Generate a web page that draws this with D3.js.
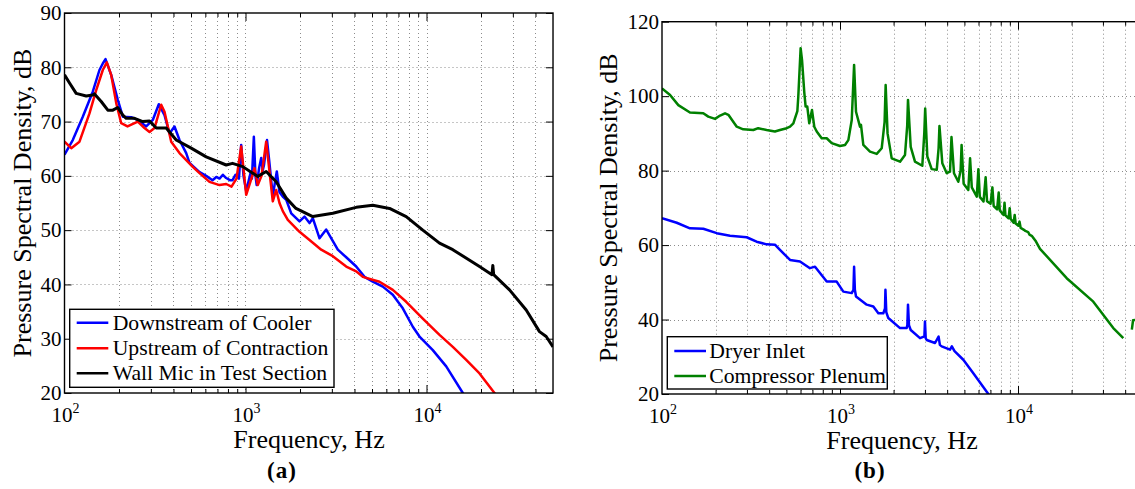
<!DOCTYPE html>
<html>
<head>
<meta charset="utf-8">
<script src="https://cdn.jsdelivr.net/npm/d3@7"></script>
<style>
  html, body { margin: 0; padding: 0; background: #fff; }
  svg { display: block; font-family: "Liberation Serif", "Times New Roman", serif; }
</style>
</head>
<body>
<svg id="chart" width="1135" height="489"></svg>
<script>
// ---------------- DATA ----------------
// Panel (a): [frequency Hz, PSD dB]
const downstreamCooler = [
  [100,63.9],[111.1,66.6],[126.2,70.9],[143.3,75.5],[156,79.5],[162.8,80.7],[168.5,81.5],[181.1,78.6],[197,74],
  [210,70.9],[233.6,70.8],[254.1,70.3],[282.8,69.1],[307.5,70.3],[331.9,73.2],[356.9,71.2],[380.2,67.8],[405.3,69.1],
  [431.9,66.6],[470.3,64.2],[490.6,62.4],[557.1,60.7],[606.6,60],[657.2,59.2],[690,59.8],[718.5,59.5],[750,60.2],
  [782.3,59.6],[820,59.2],[847.6,59.2],[880,60.2],[920,59.5],[946.6,65.7],[975,60],[1009,57.2],[1066,60.5],[1085,59.5],
  [1112,67.2],[1135,60],[1153,58.3],[1190,61.5],[1221,63.3],[1245,61],[1265,62],[1315,66.6],[1350,63],[1415,56.3],
  [1450,58.5],[1489,60.8],[1541,57],[1606,56.2],[1679,55.6],[1789,53.1],[1988,51.6],[2118,52.5],[2258,51.3],
  [2354,52.2],[2564,48.5],[2792,50.1],[3236,46.4],[3601,45],[4089,43.3],[4545,41.4],[5050,40.5],[5737,39.6],
  [6513,38.1],[7396,35.6],[8402,32.2],[9148,30.4],[10835,27.9],[12850,24.9],[15870,20],[16300,19.3]
];
const upstreamContraction = [
  [100,66.3],[109,65.1],[121,66.3],[137.4,71.5],[149.7,75.8],[162.8,79.5],[171.3,80.9],[181.1,78.6],[193.1,73.4],
  [205.7,69.7],[222.9,69.1],[254.1,70],[276.7,68.8],[294.9,68.1],[314.2,68.8],[342.2,73.1],[356.9,71.8],[388.6,66.3],
  [431.9,64.2],[509.6,61.7],[557.1,60.5],[632.6,58.9],[718.5,58.3],[782.3,58.5],[836.9,58.0],[891.7,59.5],
  [946.6,65.4],[1009,56.5],[1066,59],[1121,61.4],[1169,58.3],[1226,60],[1301,66.3],[1415,55.3],[1478,57.4],
  [1541,55],[1607,53.5],[1713,51.9],[1988,49.7],[2258,48.2],[2620,46.4],[3037,45.2],[3601,43.3],[4089,42.4],
  [4447,41.4],[5500,40.5],[6513,39],[7723,36.8],[9541,33.7],[11800,30.7],[13977,28.5],[16570,26.1],[19630,23.6],
  [23750,20],[24500,19.4]
];
const wallMic = [
  [100,78.6],[106.6,77.1],[116,75.2],[131.8,74.7],[143.3,74.9],[146.5,75.1],[159.5,73.7],[173.5,72.1],[184.9,72.1],
  [197,72.6],[210,71.2],[219.3,70.6],[243.6,70.6],[270.7,70],[294.9,70.1],[321.2,68.8],[364.7,68.8],[414.2,66.6],
  [501.2,65.1],[606.6,63.5],[782.3,62],[847.6,62.3],[966.2,61.7],[1060,60.8],[1169,59.9],[1301,60.8],[1478,58.9],
  [1679,55.9],[1900,54],[2354,52.5],[3037,53.1],[4089,54.2],[5050,54.6],[6248,54],[7723,52.5],[9541,50],
  [11800,47.6],[13977,46.4],[19630,43.3],[23000,41.8],[23250,43.5],[23500,41.8],[28750,39],[35550,35.3],
  [42100,31.3],[45850,30.4],[50000,28.5]
];
// Panel (b)
const dryerInlet = [
  [100,67.2],[121,66],[143.6,64.5],[170.6,64.4],[203,63.2],[241,62.5],[299,62.1],[340,60.9],[387,60.2],[431,60.1],
  [460,58.7],[524,56],[596,55.6],[678,53.8],[724,54.2],[842,50.2],[958,50.2],[1044,47.5],[1164,47.1],[1190,48],
  [1200,54.2],[1212,48],[1230,46.2],[1413,44],[1539,43.5],[1642,41.7],[1751,41.7],[1790,43],[1800,48],[1820,42],
  [1868,40.4],[2174,37.7],[2370,37.7],[2390,38.5],[2410,44],[2440,38.5],[2496,37.2],[2815,35],[2980,35.5],
  [3002,39.5],[3030,35],[3069,34.5],[3418,33.7],[3580,35.4],[3640,33.2],[3727,32.8],[4150,31.9],[4250,32.8],
  [4400,31.5],[4929,29.2],[5610,25.6],[6812,20],[7000,19.4]
];
const compressorPlenum = [
  [100,102.1],[111,100.3],[123.5,97.6],[143.6,95.6],[170.6,95.4],[182,94.5],[198.6,93.9],[212,94.8],[226,95.4],
  [236,95.0],[263,91.8],[286,91.1],[326,90.9],[347,91.4],[387,90.9],[431,90.5],[460,90.9],[502,91.4],[524,91.8],
  [547,92.7],[559,94.1],[576,96],[583,99.9],[601,112.9],[612,109.7],[630,101],[641,97.2],[655,97.2],[672,92.7],
  [696,96.3],[717,91.8],[740,90.5],[789,88.7],[842,88.7],[898,87.4],[1000,86.6],[1067,86.9],[1114,88.2],
  [1164,93.6],[1200,108.4],[1230,95.8],[1295,91.8],[1312,92.3],[1352,86.9],[1474,85.1],[1608,84.5],[1715,86],
  [1780,93],[1805,103],[1850,90],[1952,83.3],[2174,82.4],[2318,84.2],[2385,92],[2410,99],[2496,86.4],[2638,82.4],
  [2900,81.3],[2975,90],[3010,96.7],[3094,83.8],[3275,80.4],[3495,80.2],[3580,86],[3620,92],[3756,82],[3978,79.3],
  [4150,79.7],[4230,89],[4369,79.3],[4620,77],[4760,80],[4820,86.9],[4950,76.5],[5258,74.8],[5380,83.3],[5500,75.5],
  [5868,73],[5990,80.4],[6100,73],[6400,71.7],[6580,78.2],[6700,71.8],[7010,71.1],[7180,75.5],[7300,70.5],[7630,69.6],
  [7790,74.1],[7900,69.3],[8300,68.1],[8400,71.4],[8500,68],[8850,67.2],[8980,69.9],[9100,67],[9450,66],[9580,68.1],
  [9700,65.8],[10050,65.2],[10200,66.3],[10350,64.6],[10800,64.1],[11000,63.8],[11400,63.5],[11600,62.8],
  [12000,62.4],[12600,61.0],[13292,59],[18775,51.1],[26485,44.8],[34311,37.7],[39049,35],
  null,[43600,37.3],[44300,39.8],[47000,40]
];

const xMajorTicks = [100, 1000, 10000];
const xExponents = ["2", "3", "4"];
const leftYTicks = [20, 30, 40, 50, 60, 70, 80, 90];
const rightYTicks = [20, 40, 60, 80, 100, 120];
const leftLegend = ["Downstream of Cooler", "Upstream of Contraction", "Wall Mic in Test Section"];
const rightLegend = ["Dryer Inlet", "Compressor Plenum"];
const xTitle = "Frequency, Hz";
const yTitle = "Pressure Spectral Density, dB";

// ---------------- DRAW ----------------
const svg = d3.select("#chart");
const FONT = "'Liberation Serif', 'Times New Roman', serif";

function minorValues() {
  const v = [];
  for (const d of [100, 1000, 10000]) for (let k = 1; k <= 9; k++) {
    const f = k * d; if (f > 100 && f < 50000) v.push(f);
  }
  return v;
}

function panel(cfg) {
  const x = d3.scaleLog().domain([100, 50000]).range([cfg.x0, cfg.x0 + cfg.decade * Math.log10(500)]);
  const y = d3.scaleLinear().domain(cfg.yDomain).range([cfg.yBottom, cfg.yTop]);
  const [xa, xb] = x.range();
  const g = svg.append("g");
  const clipId = "clip" + cfg.id;
  svg.append("clipPath").attr("id", clipId).append("rect")
    .attr("x", xa).attr("y", cfg.yTop).attr("width", xb - xa).attr("height", cfg.yBottom - cfg.yTop);

  // grid
  const grid = g.append("g").attr("stroke", "#8c8c8c").attr("stroke-width", 1).attr("stroke-dasharray", "1,3");
  grid.selectAll("line.v").data(minorValues()).join("line")
    .attr("x1", d => Math.round(x(d)) + 0.5).attr("x2", d => Math.round(x(d)) + 0.5)
    .attr("y1", cfg.yTop).attr("y2", cfg.yBottom);
  grid.selectAll("line.h").data(cfg.yTicks.slice(1, -1)).join("line")
    .attr("y1", d => Math.round(y(d)) + 0.5).attr("y2", d => Math.round(y(d)) + 0.5)
    .attr("x1", xa).attr("x2", xb);

  // series
  const line = d3.line().defined(d => d !== null).x(d => x(d[0])).y(d => y(d[1]));
  const lines = g.append("g").attr("clip-path", `url(#${clipId})`);
  cfg.series.forEach(s => {
    lines.append("path").datum(s.data).attr("fill", "none").attr("stroke", s.color)
      .attr("stroke-width", s.width).attr("stroke-linejoin", "round").attr("d", line);
  });

  // axes (ticks inward)
  const axG = g.append("g");
  const styleAxis = sel => { sel.select(".domain").remove(); sel.selectAll("line").attr("stroke", "#000").attr("stroke-width", 1); };
  axG.append("g").attr("transform", `translate(0,${cfg.yBottom})`)
    .call(d3.axisBottom(x).tickValues(minorValues().filter(v => !xMajorTicks.includes(v))).tickSize(-4).tickFormat(""))
    .call(styleAxis);
  axG.append("g").attr("transform", `translate(0,${cfg.yBottom})`)
    .call(d3.axisBottom(x).tickValues(xMajorTicks.slice(1)).tickSize(-8).tickFormat(""))
    .call(styleAxis);
  axG.append("g").attr("transform", `translate(0,${cfg.yTop})`)
    .call(d3.axisTop(x).tickValues(minorValues().filter(v => !xMajorTicks.includes(v))).tickSize(-4).tickFormat(""))
    .call(styleAxis);
  axG.append("g").attr("transform", `translate(0,${cfg.yTop})`)
    .call(d3.axisTop(x).tickValues(xMajorTicks.slice(1)).tickSize(-8).tickFormat(""))
    .call(styleAxis);
  const yl = axG.append("g").attr("transform", `translate(${xa},0)`)
    .call(d3.axisLeft(y).tickValues(cfg.yTicks).tickSize(-7).tickPadding(3).tickFormat(d3.format("d")))
    .call(styleAxis);
  yl.selectAll("text").attr("font-family", FONT).attr("font-size", 21).attr("fill", "#000");
  axG.append("g").attr("transform", `translate(${xb},0)`)
    .call(d3.axisRight(y).tickValues(cfg.yTicks).tickSize(-7).tickFormat(""))
    .call(styleAxis);

  // frame
  g.append("rect").attr("x", xa).attr("y", cfg.yTop).attr("width", xb - xa).attr("height", cfg.yBottom - cfg.yTop)
    .attr("fill", "none").attr("stroke", "#000").attr("stroke-width", 1.4);

  // x tick labels 10^n
  xMajorTicks.forEach((v, i) => {
    const t = g.append("text").attr("x", x(v) + 1).attr("y", cfg.yBottom + 29)
      .attr("text-anchor", "middle").attr("font-family", FONT).attr("font-size", 21).attr("fill", "#000");
    t.append("tspan").text("10");
    t.append("tspan").attr("dy", -9).attr("font-size", 14).text(xExponents[i]);
  });

  // titles
  g.append("text").attr("x", cfg.xTitleX).attr("y", cfg.yBottom + 55).attr("text-anchor", "middle")
    .attr("font-family", FONT).attr("font-size", 26).attr("fill", "#000").text(xTitle);
  g.append("text").attr("transform", `translate(${cfg.yTitleX},${(cfg.yTop + cfg.yBottom) / 2}) rotate(-90)`)
    .attr("text-anchor", "middle").attr("font-family", FONT).attr("font-size", 26).attr("fill", "#000").text(yTitle);
  g.append("text").attr("x", cfg.captionX).attr("y", 478).attr("text-anchor", "middle")
    .attr("font-family", FONT).attr("font-size", 23).attr("font-weight", "bold").attr("letter-spacing", 1)
    .attr("fill", "#000").text(cfg.caption);

  // legend
  const L = cfg.legend;
  const lg = g.append("g");
  lg.append("rect").attr("x", L.x).attr("y", L.y).attr("width", L.w).attr("height", L.h)
    .attr("fill", "#fff").attr("stroke", "#000").attr("stroke-width", 1.4);
  cfg.series.forEach((s, i) => {
    const cy = L.rowY[i];
    lg.append("line").attr("x1", L.lx0).attr("x2", L.lx1).attr("y1", cy).attr("y2", cy)
      .attr("stroke", s.color).attr("stroke-width", 2.5);
    lg.append("text").attr("x", L.tx).attr("y", cy + 7).attr("font-family", FONT).attr("font-size", 21.7)
      .attr("fill", "#000").text(L.labels[i]);
  });
}

panel({
  id: "a", x0: 64.5, decade: 181, yTop: 13, yBottom: 393, yDomain: [20, 90], yTicks: leftYTicks,
  series: [
    { data: downstreamCooler, color: "#0000ff", width: 2.5 },
    { data: upstreamContraction, color: "#ff0000", width: 2.5 },
    { data: wallMic, color: "#000000", width: 3 }
  ],
  xTitleX: 309, yTitleX: 31, caption: "(a)", captionX: 282,
  legend: { x: 69.7, y: 309.3, w: 264.3, h: 78, lx0: 76.7, lx1: 108.3, tx: 112.7,
            rowY: [322.7, 348.3, 373.3], labels: leftLegend }
});

panel({
  id: "b", x0: 662, decade: 178, yTop: 21.7, yBottom: 394, yDomain: [20, 120], yTicks: rightYTicks,
  series: [
    { data: dryerInlet, color: "#0000ff", width: 2.5 },
    { data: compressorPlenum, color: "#008000", width: 2.5 }
  ],
  xTitleX: 902, yTitleX: 617, caption: "(b)", captionX: 870,
  legend: { x: 667.3, y: 336.7, w: 220, h: 52.3, lx0: 674.3, lx1: 706, tx: 709.3,
            rowY: [351, 376], labels: rightLegend }
});
</script>
</body>
</html>
